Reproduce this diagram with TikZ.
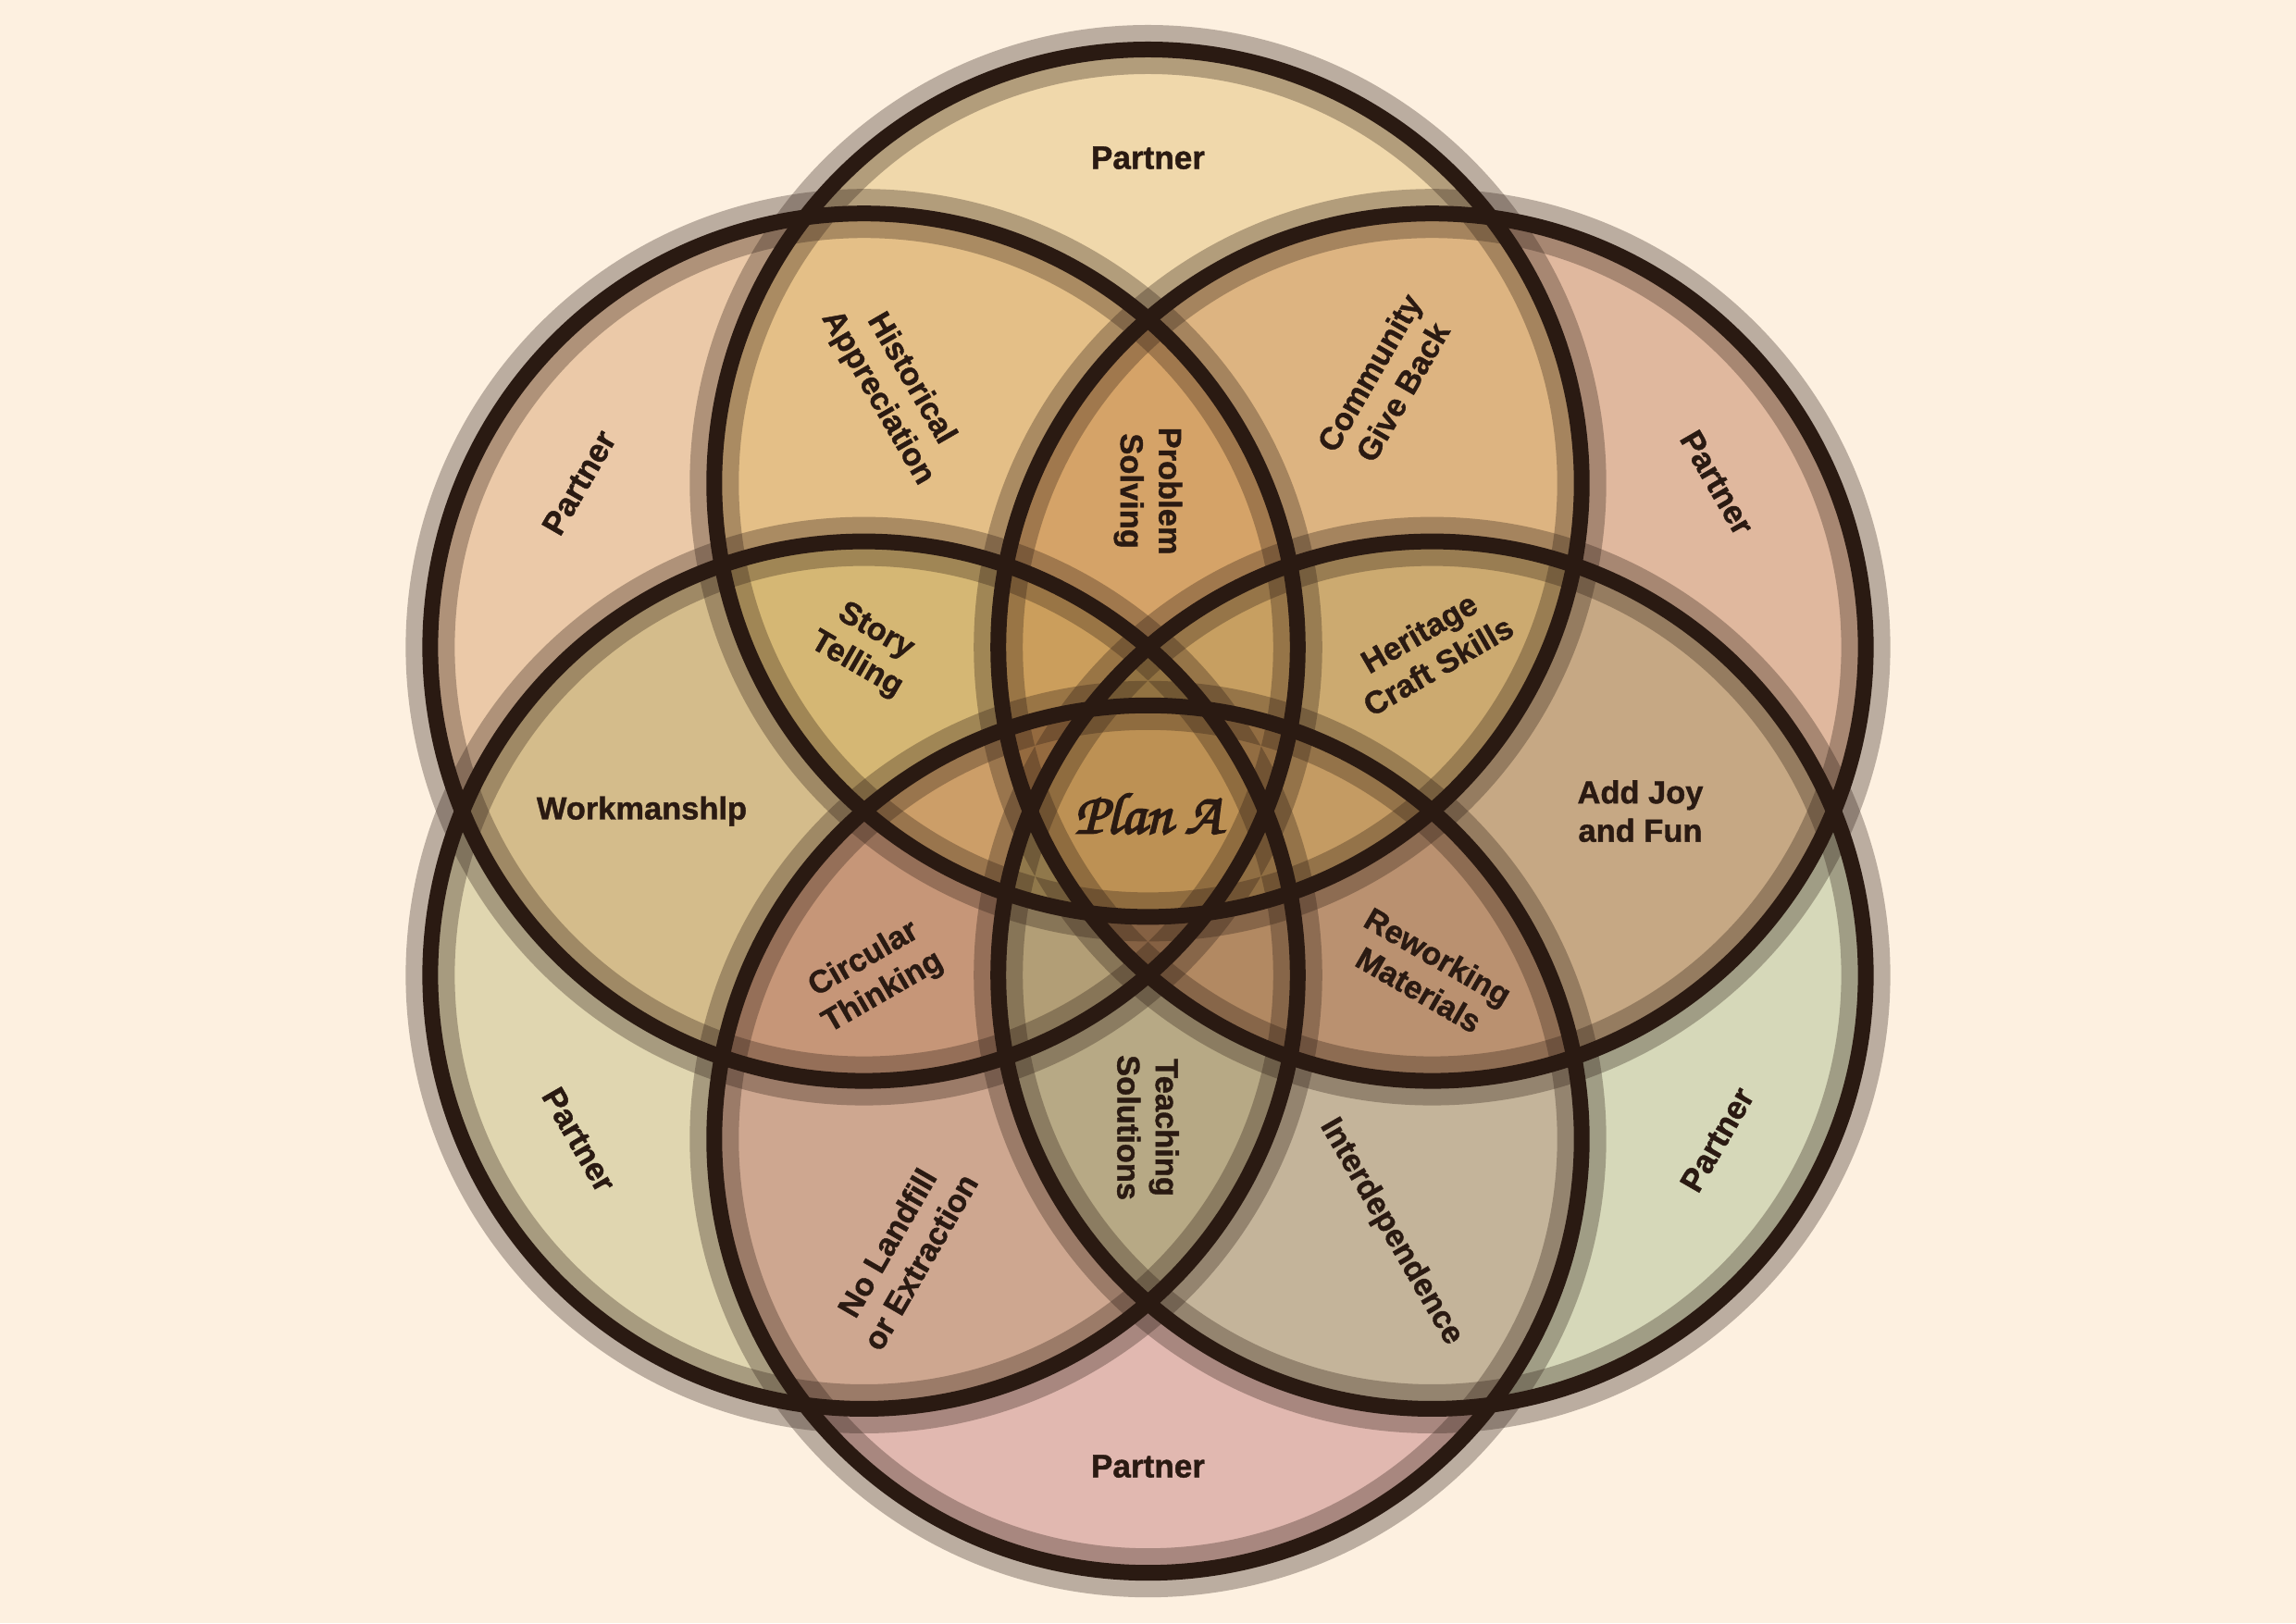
\documentclass[tikz,border=0pt]{standalone}
\usepackage{fontspec}
\setmainfont[BoldFeatures={FakeBold=1.2}]{Liberation Sans}
\newfontfamily\planfont[FakeBold=3]{TeX Gyre Chorus}
\definecolor{bg}{RGB}{253,240,224}
\definecolor{ink}{RGB}{42,26,18}
\definecolor{cT}{RGB}{216,174,75}
\definecolor{cUR}{RGB}{170,80,35}
\definecolor{cLR}{RGB}{142,174,115}
\definecolor{cB}{RGB}{173,80,87}
\definecolor{cLL}{RGB}{170,166,87}
\definecolor{cUL}{RGB}{204,131,64}
\tikzset{
  petal/.style={fill opacity=0.35},
  halo/.style={draw=ink, draw opacity=0.31, line width=0.53cm},
  ring/.style={draw=ink, line width=0.17cm},
  lbl/.style={text=ink, font=\fontsize{9.8}{11.8}\selectfont\bfseries, align=center, inner sep=0pt},
  plbl/.style={text=ink, font=\fontsize{10}{12}\selectfont\bfseries, inner sep=0pt}
}
\begin{document}
\begin{tikzpicture}
\fill[bg] (0,0) rectangle (24.81,17.54);
\useasboundingbox (0,0) rectangle (24.81,17.54);
\begin{scope}[shift={(12.405,8.774)}]
  \coordinate (O) at (0,0);
  \foreach \n/\a in {UL/150,LL/210,B/270,LR/330,UR/30,T/90}
    \coordinate (c\n) at (\a:3.544);
  \foreach \n in {UL,LL,B,LR,UR,T}
    \fill[petal, fill=c\n] (c\n) circle (4.687);
  \foreach \n in {UL,LL,B,LR,UR,T}
    \draw[halo] (c\n) circle (4.687);
  \foreach \n in {UL,LL,B,LR,UR,T}
    \draw[ring] (c\n) circle (4.687);
  % partners
  \node[plbl] (pT) at (90:7.06) {Partner};
  \node[plbl, rotate=60] (pUL) at (150:7.1) {Partner};
  \node[plbl, rotate=-60] (pLL) at (210:7.1) {Partner};
  \node[plbl] (pB) at (270:7.08) {Partner};
  \node[plbl, rotate=60] (pLR) at (330:7.1) {Partner};
  \node[plbl, rotate=-60] (pUR) at (30:7.1) {Partner};
  % two-circle regions
  \node[lbl, rotate=-60] (hist) at (121:5.33) {Historical\\Appreciation};
  \node[lbl, rotate=60] (comm) at (61:5.3) {Community\\Give Back};
  \node[lbl] (joy) at (0:5.32) {Add Joy\\and Fun};
  \node[lbl, rotate=-60] (inter) at (300:5.25) {Interdependence};
  \node[lbl, rotate=60] (land) at (241:5.45) {No Landfill\\or Extraction};
  \node[lbl] (work) at (180:5.47) {Workmanshlp};
  % three-circle regions
  \node[lbl, rotate=-90] (prob) at (90:3.46) {Problem\\Solving};
  \node[lbl, rotate=-30] (story) at (150:3.52) {Story\\Telling};
  \node[lbl, rotate=30] (circ) at (211:3.46) {Circular\\Thinking};
  \node[lbl, rotate=-90] (teach) at (270:3.42) {Teaching\\Solutions};
  \node[lbl, rotate=-30] (rework) at (330:3.5) {Reworking\\Materials};
  \node[lbl, rotate=30] (herit) at (30:3.5) {Heritage\\Craft Skills};
  % centre
  \node[text=ink, font=\planfont\fontsize{18}{22}\selectfont, inner sep=0pt] (plan) at (0,-0.03) {Plan A};
\end{scope}
\end{tikzpicture}
\end{document}
